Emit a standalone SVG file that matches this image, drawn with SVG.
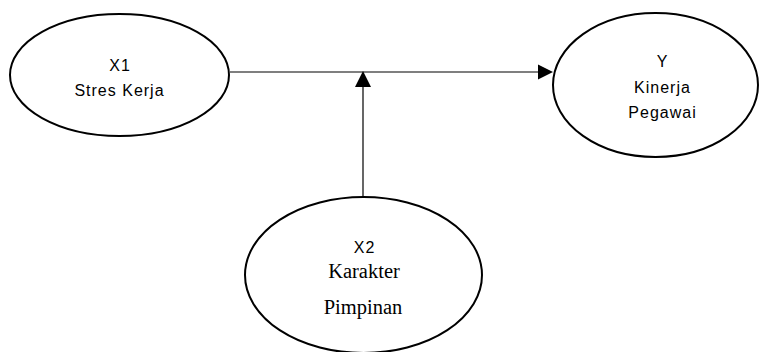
<svg xmlns="http://www.w3.org/2000/svg" width="761" height="352" viewBox="0 0 761 352">
<style>
.node ellipse{fill:#fff;stroke:#000;stroke-width:2}
.sans{font-family:"Liberation Sans",Arial,sans-serif;font-size:16px;letter-spacing:1px;fill:#000;text-anchor:middle}
.serif{font-family:"Liberation Serif","Times New Roman",serif;font-size:20.5px;fill:#000;text-anchor:middle}
.conn line{stroke:#000;stroke-width:1.2}
.conn polygon{fill:#000}
</style>
<rect width="761" height="352" fill="#fff"/>
<g id="connectors" class="conn">
<line x1="230" y1="72" x2="540" y2="72"/>
<polygon points="553,72 538,64.5 538,79.5"/>
<line x1="363" y1="197" x2="363" y2="86"/>
<polygon points="363,71 355,87 371,87"/>
</g>
<g id="x1" class="node">
<ellipse cx="119.5" cy="75" rx="109.5" ry="61"/>
<text class="sans" x="120" y="71">X1</text>
<text class="sans" x="119.5" y="96">Stres Kerja</text>
</g>
<g id="y" class="node">
<ellipse cx="655.5" cy="85" rx="102.5" ry="72"/>
<text class="sans" x="662.5" y="67">Y</text>
<text class="sans" x="662.5" y="93">Kinerja</text>
<text class="sans" x="662.5" y="118">Pegawai</text>
</g>
<g id="x2" class="node">
<ellipse cx="363.5" cy="275" rx="118.5" ry="78"/>
<text class="sans" x="364.5" y="253">X2</text>
<text class="serif" x="364" y="278">Karakter</text>
<text class="serif" x="363" y="314">Pimpinan</text>
</g>
</svg>
